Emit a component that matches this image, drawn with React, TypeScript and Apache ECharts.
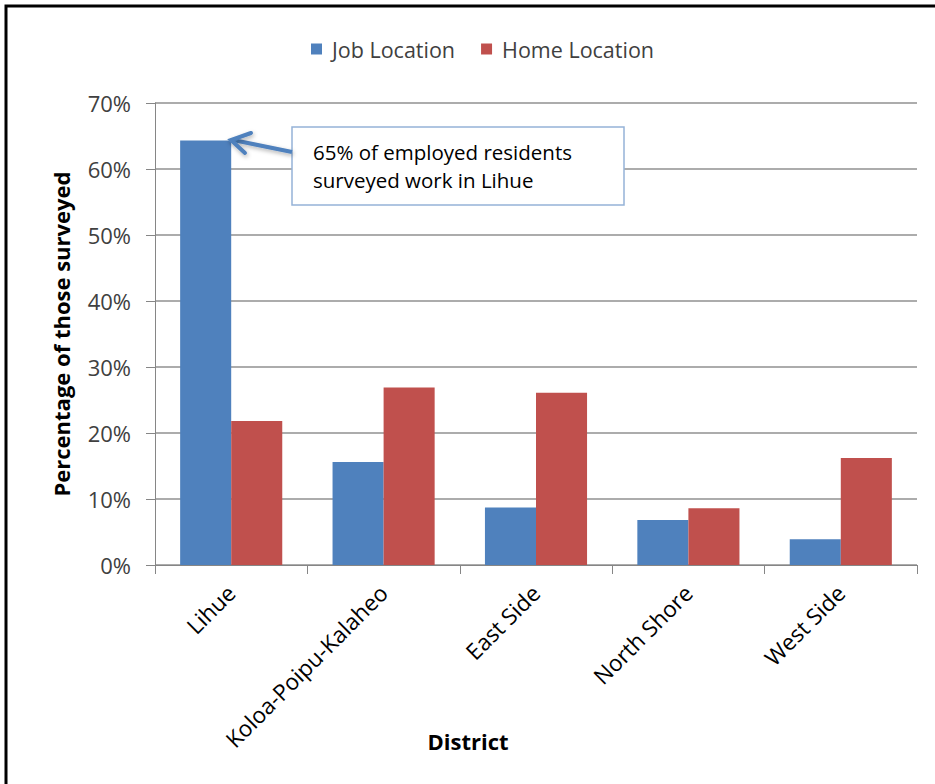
import React, { useEffect, useRef } from "react";
import * as echarts from "echarts";

const categories = ["Lihue", "Koloa-Poipu-Kalaheo", "East Side", "North Shore", "West Side"];
const jobLocation = [64.3, 15.6, 8.7, 6.8, 3.9];
const homeLocation = [21.8, 26.9, 26.1, 8.6, 16.2];
const seriesNames = ["Job Location", "Home Location"];
const annotationLines = ["65% of employed residents", "surveyed work in Lihue"];
const xAxisTitle = "District";
const yAxisTitle = "Percentage of those surveyed";

const FONT = "'Open Sans', 'Liberation Sans', sans-serif";

export default function App() {
  const ref = useRef<HTMLDivElement>(null);
  useEffect(() => {
    document.body.style.margin = "0";
    const chart = echarts.init(ref.current!, null, { renderer: "svg" });
    chart.setOption({
      animation: false,
      backgroundColor: "#ffffff",
      textStyle: { fontFamily: FONT },
      legend: {
        data: seriesNames,
        top: 33,
        left: 306,
        itemWidth: 11,
        itemHeight: 11,
        itemGap: 26,
        icon: "rect",
        textStyle: { fontSize: 21.5, color: "#404040", fontFamily: FONT, padding: [0, 0, 0, 5] },
      },
      grid: { left: 155, right: 18, top: 103, bottom: 219, containLabel: false },
      xAxis: {
        type: "category",
        data: categories,
        axisLine: { lineStyle: { color: "#868686", width: 1 } },
        axisTick: { show: true, length: 9, lineStyle: { color: "#868686" }, alignWithLabel: false },
        axisLabel: { rotate: 45, fontSize: 22.5, color: "#000", margin: 24, interval: 0, fontFamily: FONT },
      },
      yAxis: {
        type: "value",
        min: 0,
        max: 70,
        interval: 10,
        name: yAxisTitle,
        nameLocation: "middle",
        nameGap: 83,
        nameTextStyle: { fontSize: 22, fontWeight: "bold", color: "#000", fontFamily: FONT },
        axisLine: { show: true, lineStyle: { color: "#868686", width: 1 } },
        axisTick: { show: true, length: 9, lineStyle: { color: "#868686" } },
        axisLabel: { formatter: "{value}%", fontSize: 22, color: "#404040", margin: 24, fontFamily: FONT },
        splitLine: { lineStyle: { color: "#909090", width: 1.5 } },
      },
      series: [
        {
          name: seriesNames[0],
          type: "bar",
          data: jobLocation,
          barGap: "0%",
          barCategoryGap: "33%",
          itemStyle: { color: "#4F81BD" },
        },
        {
          name: seriesNames[1],
          type: "bar",
          data: homeLocation,
          barGap: "0%",
          barCategoryGap: "33%",
          itemStyle: { color: "#C0504D" },
        },
      ],
      graphic: [
        {
          type: "rect",
          shape: { x: 6, y: 6, width: 1000, height: 900 },
          style: { fill: "none", stroke: "#000", lineWidth: 3 },
          silent: true,
          z: 100,
        },
        {
          type: "text",
          x: 468,
          y: 741,
          style: {
            text: xAxisTitle,
            fontSize: 22,
            fontWeight: "bold",
            fontFamily: FONT,
            fill: "#000",
            align: "center",
            verticalAlign: "middle",
          },
          z: 101,
        },
        {
          type: "rect",
          shape: { x: 292, y: 127, width: 332, height: 78 },
          style: { fill: "#ffffff", stroke: "#95B3D7", lineWidth: 1.5 },
          z: 100,
        },
        {
          type: "text",
          x: 313,
          y: 152,
          style: {
            text: annotationLines[0],
            fontSize: 20.5,
            fontFamily: FONT,
            fill: "#000",
            verticalAlign: "middle",
          },
          z: 101,
        },
        {
          type: "text",
          x: 313,
          y: 180,
          style: {
            text: annotationLines[1],
            fontSize: 20.5,
            fontFamily: FONT,
            fill: "#000",
            verticalAlign: "middle",
          },
          z: 101,
        },
        {
          type: "line",
          shape: { x1: 292, y1: 152, x2: 233, y2: 140 },
          style: { stroke: "#4F81BD", lineWidth: 4, shadowBlur: 4, shadowColor: "rgba(0,0,0,0.3)", shadowOffsetX: 1, shadowOffsetY: 2 },
          z: 100,
        },
        {
          type: "polyline",
          shape: { points: [[251, 133], [231, 140], [245, 153]] },
          style: { stroke: "#4F81BD", lineWidth: 4, fill: "none", lineCap: "round", lineJoin: "miter", shadowBlur: 4, shadowColor: "rgba(0,0,0,0.3)", shadowOffsetX: 1, shadowOffsetY: 2 },
          z: 100,
        },
      ],
    });
    return () => chart.dispose();
  }, []);
  return <div ref={ref} style={{ width: 935, height: 784 }} />;
}
